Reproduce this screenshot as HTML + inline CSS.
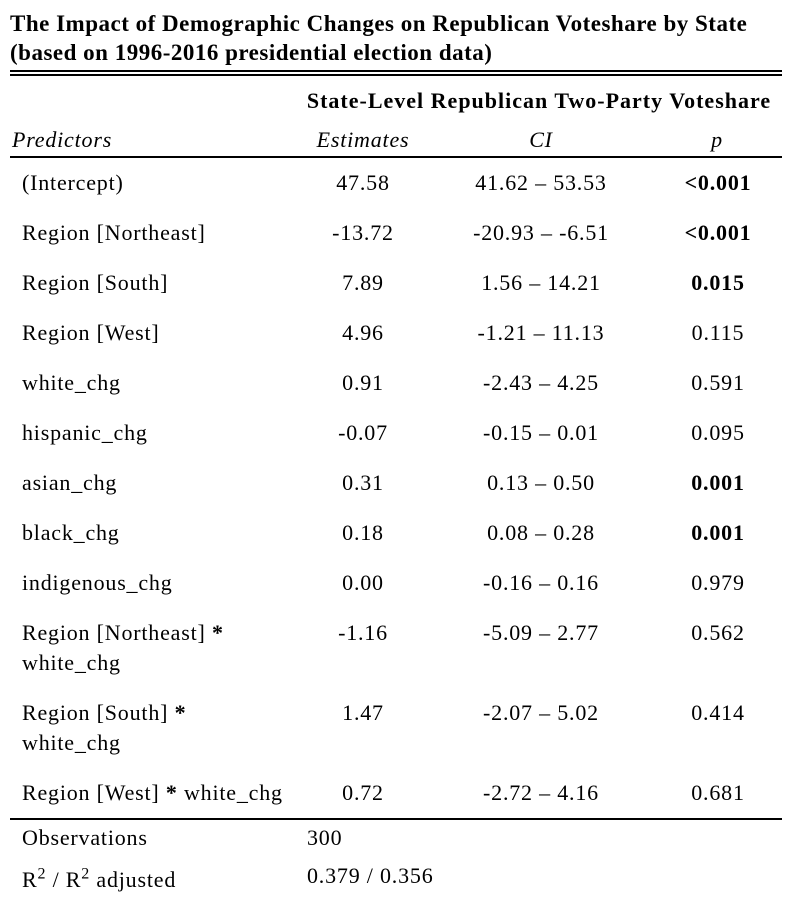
<!DOCTYPE html>
<html><head><meta charset="utf-8"><style>
body{margin:0;width:798px;height:916px;background:#fff;position:relative;font-family:"Liberation Serif",serif;color:#000;overflow:hidden}
.t{position:absolute;font-size:22px;letter-spacing:0.8px;line-height:24px;white-space:nowrap}
.c{transform:translateX(-50%)}
.b{font-weight:bold}.i{font-style:italic}
.ln{position:absolute;left:10px;width:772px;background:#000}
.title{position:absolute;left:10px;font-weight:bold;font-size:23px;letter-spacing:0.5px;line-height:29px;white-space:nowrap}
</style></head><body>
<div class="title" style="top:9px">The Impact of Demographic Changes on Republican Voteshare by State<br>(based on 1996-2016 presidential election data)</div>
<div class="ln" style="top:70px;height:2px"></div>
<div class="ln" style="top:74px;height:2px"></div>
<div class="t b c" style="left:539px;top:89px;letter-spacing:1px">State-Level Republican Two-Party Voteshare</div>
<div class="t i" style="left:12px;top:128px">Predictors</div>
<div class="t i c" style="left:363px;top:128px">Estimates</div>
<div class="t i c" style="left:541px;top:128px">CI</div>
<div class="t i c" style="left:717px;top:128px">p</div>
<div class="ln" style="top:156px;height:2px"></div>
<div id="rows"></div>
<div class="ln" style="top:818px;height:2px"></div>
<div class="t" style="left:22px;top:826px">Observations</div>
<div class="t" style="left:307px;top:826px">300</div>
<div class="t" style="left:22px;top:868px">R<sup style="font-size:16px;line-height:0">2</sup> / R<sup style="font-size:16px;line-height:0">2</sup> adjusted</div>
<div class="t" style="left:307px;top:864px">0.379 / 0.356</div>
<script>
const predictors=["(Intercept)","Region [Northeast]","Region [South]","Region [West]","white_chg","hispanic_chg","asian_chg","black_chg","indigenous_chg","Region [Northeast] <b>*</b><br>white_chg","Region [South] <b>*</b><br>white_chg","Region [West] <b>*</b> white_chg"];
const estimates=["47.58","-13.72","7.89","4.96","0.91","-0.07","0.31","0.18","0.00","-1.16","1.47","0.72"];
const cis=["41.62 – 53.53","-20.93 – -6.51","1.56 – 14.21","-1.21 – 11.13","-2.43 – 4.25","-0.15 – 0.01","0.13 – 0.50","0.08 – 0.28","-0.16 – 0.16","-5.09 – 2.77","-2.07 – 5.02","-2.72 – 4.16"];
const pvals=["<0.001","<0.001","0.015","0.115","0.591","0.095","0.001","0.001","0.979","0.562","0.414","0.681"];
const root=document.getElementById('rows');
let y=171;
for(let k=0;k<predictors.length;k++){
  const two=predictors[k].includes('<br>');
  const sig=parseFloat(pvals[k].replace('<',''))<0.05;
  const cells=[[predictors[k],22,'',`predictor-${k}`],[estimates[k],363,'c',`estimate-${k}`],[cis[k],541,'c',`ci-${k}`],[pvals[k].replace('<','&lt;'),718,'c'+(sig?' b':''),`p-value-${k}`]];
  for(const [txt,x,cls,nm] of cells){
    const d=document.createElement('div');
    d.className='t '+cls;
    d.style.left=x+'px';d.style.top=y+'px';
    if(two&&x===22)d.style.lineHeight='30px',d.style.top=(y-3)+'px';
    d.innerHTML=txt;
    
    
    root.appendChild(d);
  }
  y+=two?80:50;
}
</script>
</body></html>
